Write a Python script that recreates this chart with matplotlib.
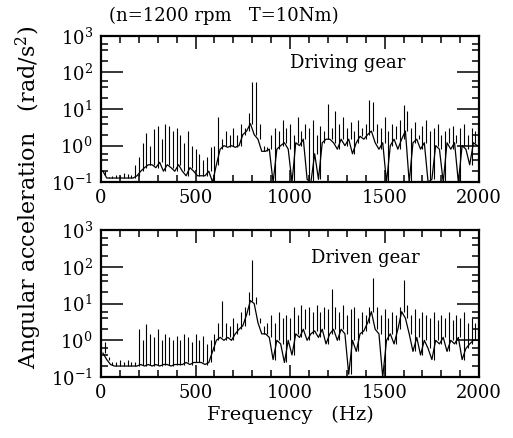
#!/usr/bin/env python3

"""
Angular acceleration spectra of the driving and driven gear
(n=1200 rpm, T=10Nm), log scale, two stacked panels.
"""

import numpy as np
import matplotlib
matplotlib.use("Agg")
import matplotlib.pyplot as plt
from matplotlib.ticker import LogLocator, MultipleLocator, NullFormatter

plt.rcParams["font.family"] = ["DejaVu Serif"]
plt.rcParams["mathtext.fontset"] = "dejavuserif"

# spectrum lines sit on the 20 Hz shaft harmonics, floor points half way between
peak_freq = np.arange(20, 2001, 20)
trough_freq = peak_freq - 10

driving_peaks = [
    0.16, 0.14, 0.15, 0.16, 0.15, 0.18, 0.17, 0.16, 0.3, 0.5,
    1.2, 2.2, 1.0, 2.8, 3.5, 1.5, 4.0, 3.5, 2.5, 3.0,
    2.0, 1.2, 2.5, 1.0, 0.8, 0.6, 0.4, 0.5, 0.9, 1.0,
    6.0, 1.5, 2.5, 2.0, 3.0, 2.0, 4.0, 3.0, 8.0, 55,
    55, 4.0, 1.0, 0.9, 2.0, 3.0, 2.5, 5.0, 3.0, 4.0,
    2.0, 6.0, 2.5, 4.0, 3.0, 5.0, 2.0, 3.5, 2.5, 14,
    3.0, 9.0, 4.0, 6.0, 3.0, 4.5, 2.5, 5.0, 3.0, 4.0,
    18, 16, 4.0, 3.0, 6.0, 2.5, 4.0, 3.5, 5.0, 13,
    9.0, 3.0, 4.5, 2.0, 3.5, 5.0, 2.5, 3.0, 4.0, 2.0,
    2.5, 3.0, 3.5, 2.0, 3.0, 4.0, 2.0, 3.0, 2.5, 2.0,
]
driving_troughs = [
    0.2, 0.13, 0.13, 0.13, 0.13, 0.13, 0.13, 0.13, 0.13, 0.15,
    0.2, 0.25, 0.3, 0.3, 0.25, 0.35, 0.2, 0.3, 0.25, 0.2,
    0.3, 0.2, 0.15, 0.25, 0.2, 0.15, 0.15, 0.15, 0.2, 0.1,
    0.3, 0.8, 1.0, 0.9, 1.0, 0.9, 1.0, 2.0, 2.5, 4.0,
    2.0, 1.5, 0.7, 0.7, 0.8, 0.1, 0.8, 1.0, 1.2, 0.8,
    0.1, 1.2, 1.0, 1.5, 0.12, 0.1, 0.6, 0.12, 1.2, 1.5,
    1.5, 1.2, 0.8, 1.5, 1.0, 1.5, 0.6, 1.2, 1.8, 1.5,
    2.0, 2.5, 1.2, 0.8, 1.2, 0.1, 1.0, 1.5, 0.8, 1.5,
    2.5, 0.1, 1.2, 1.5, 0.8, 1.2, 0.1, 0.12, 1.0, 0.8,
    0.1, 1.2, 0.8, 1.2, 0.1, 1.0, 0.8, 0.3, 1.2, 1.0,
]

driven_peaks = [
    0.9, 0.35, 0.25, 0.25, 0.3, 0.25, 0.3, 0.25, 0.25, 2.0,
    1.0, 2.8, 1.5, 1.2, 2.0, 1.0, 1.5, 1.2, 1.0, 1.3,
    1.0, 1.5, 1.2, 0.9, 1.5, 1.0, 1.3, 0.8, 1.0, 1.5,
    3.0, 12, 3.0, 2.5, 4.0, 3.0, 6.0, 8.0, 20, 150,
    15, 4.0, 2.5, 3.0, 5.0, 3.0, 6.0, 4.0, 5.0, 4.0,
    8.0, 5.0, 9.0, 7.0, 8.0, 6.0, 9.0, 6.0, 8.0, 7.0,
    25, 8.0, 6.0, 9.0, 5.0, 7.0, 8.0, 4.0, 6.0, 5.0,
    8.0, 50, 8.0, 5.0, 7.0, 4.0, 6.0, 5.0, 8.0, 45,
    9.0, 5.0, 7.0, 4.0, 6.0, 5.0, 4.0, 6.0, 3.5, 5.0,
    4.0, 6.0, 3.5, 5.0, 4.0, 6.0, 3.0, 4.0, 3.0, 3.0,
]
driven_troughs = [
    0.45, 0.3, 0.22, 0.2, 0.2, 0.2, 0.2, 0.2, 0.2, 0.2,
    0.22, 0.2, 0.22, 0.2, 0.22, 0.2, 0.22, 0.22, 0.2, 0.22,
    0.22, 0.22, 0.25, 0.22, 0.25, 0.25, 0.25, 0.22, 0.25, 0.5,
    1.0, 1.2, 1.0, 1.2, 1.0, 1.5, 2.0, 2.5, 5.0, 12,
    10, 3.0, 1.5, 1.5, 1.2, 0.3, 1.0, 0.8, 0.25, 1.0,
    0.4, 1.5, 1.2, 2.0, 1.0, 1.5, 1.8, 1.2, 2.0, 0.8,
    1.5, 2.0, 1.0, 2.0, 1.5, 0.12, 1.0, 0.5, 1.5, 1.8,
    3.0, 6.0, 2.0, 1.5, 0.1, 1.0, 1.5, 0.8, 2.0, 6.0,
    4.0, 1.5, 0.5, 1.2, 0.4, 1.0, 0.6, 0.3, 1.0, 0.8,
    1.2, 0.5, 1.0, 0.8, 1.2, 0.3, 0.6, 0.8, 1.0, 1.0,
]


def draw_spectrum(ax, troughs, peaks):
    """Floor line through the troughs, a thin spike at each harmonic."""
    ax.plot(trough_freq, troughs, color="black", lw=0.9)
    ax.vlines(peak_freq, troughs, peaks, color="black", lw=0.8)


def style_axes(ax):
    ax.set_yscale("log")
    ax.set_xlim(0, 2000)
    ax.set_ylim(0.1, 1000)
    ax.xaxis.set_major_locator(MultipleLocator(500))
    ax.xaxis.set_minor_locator(MultipleLocator(100))
    ax.yaxis.set_major_locator(LogLocator(base=10, numticks=10))
    ax.yaxis.set_minor_locator(LogLocator(base=10, subs=(2, 4, 6), numticks=10))
    ax.yaxis.set_minor_formatter(NullFormatter())
    ax.tick_params(which="both", direction="in", top=True, right=True,
                   labelsize=13, width=1.1, color="black")
    ax.tick_params(axis="y", which="major", length=16, pad=6)
    ax.tick_params(axis="y", which="minor", length=5)
    ax.tick_params(axis="x", which="major", length=9, pad=5)
    ax.tick_params(axis="x", which="minor", length=5)
    for spine in ax.spines.values():
        spine.set_linewidth(1.6)


fig = plt.figure(figsize=(5.13, 4.38), dpi=100)
ax1 = fig.add_axes([0.197, 0.584, 0.737, 0.334])
ax2 = fig.add_axes([0.197, 0.139, 0.737, 0.336])

draw_spectrum(ax1, driving_troughs, driving_peaks)
style_axes(ax1)
ax1.text(0.50, 0.78, "Driving gear", transform=ax1.transAxes, fontsize=13)

draw_spectrum(ax2, driven_troughs, driven_peaks)
style_axes(ax2)
ax2.text(0.555, 0.775, "Driven gear", transform=ax2.transAxes, fontsize=13)
ax2.set_xlabel("Frequency   (Hz)", fontsize=14, labelpad=3)

fig.text(0.213, 0.952, "(n=1200 rpm   T=10Nm)", fontsize=13)
fig.text(0.057, 0.55, "Angular acceleration   (rad/s$^2$)", rotation=90,
         ha="center", va="center", fontsize=16)

fig.savefig("out.png", dpi=100)
